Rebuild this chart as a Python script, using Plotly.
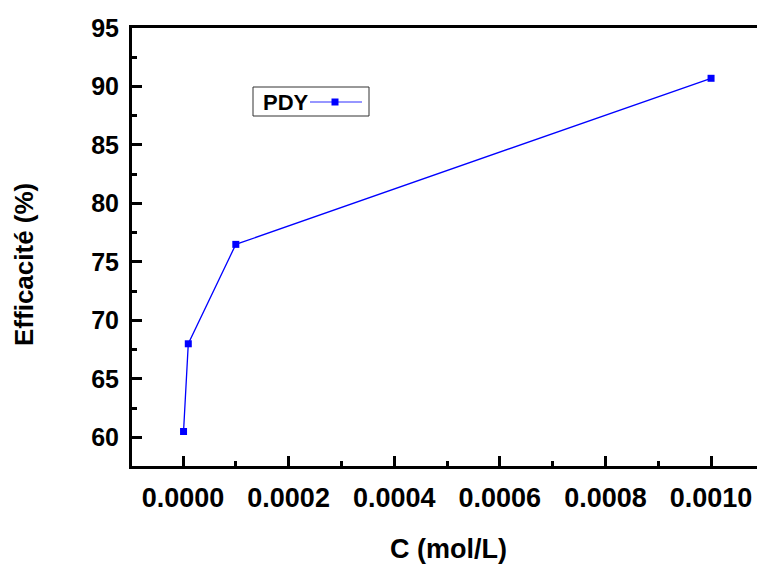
import plotly.graph_objects as go

# Inhibition efficiency vs. inhibitor concentration
concentration = [0.000001, 0.00001, 0.0001, 0.001]   # mol/L
efficiency = [60.5, 68.0, 76.5, 90.7]                  # %
series_name = "PDY"

W, H = 757, 567
L, R, T, B = 132, 0, 28, 101
PW, PH = W - L - R, H - T - B

FONT = "Liberation Sans, Arial, sans-serif"
BLUE = "#0000FF"


def px_x(p):
    return (p - L) / PW


def px_y(p):
    return (H - B - p) / PH


fig = go.Figure()
fig.add_trace(go.Scatter(
    x=concentration, y=efficiency, mode="lines+markers",
    name=series_name, showlegend=False,
    line=dict(color=BLUE, width=1.3),
    marker=dict(symbol="square", size=7, color=BLUE),
))

axis_common = dict(
    showline=True, linecolor="black", linewidth=3,
    ticks="inside", ticklen=10, tickwidth=3, tickcolor="black",
    showgrid=False, zeroline=False,
)

fig.update_xaxes(
    **axis_common,
    range=[-0.0000966, 0.001087],
    tick0=0, dtick=0.0002, tickformat=".4f",
    tickfont=dict(family=FONT, size=27, color="black", weight="bold"),
    minor=dict(ticks="inside", dtick=0.0001, ticklen=5, tickwidth=3, tickcolor="black"),
    mirror=True, ticklabelstandoff=6,
)
fig.update_yaxes(
    **axis_common,
    range=[57.55, 95],
    tick0=60, dtick=5,
    tickfont=dict(family=FONT, size=25, color="black", weight="bold"),
    minor=dict(ticks="inside", dtick=2.5, ticklen=5, tickwidth=3, tickcolor="black"),
    ticklabelstandoff=5,
)

# axis titles
fig.add_annotation(
    text="C (mol/L)", xref="paper", yref="paper",
    x=px_x(448), y=px_y(549), xanchor="center", yanchor="middle",
    showarrow=False, font=dict(family=FONT, size=27, color="black", weight="bold"),
)
fig.add_annotation(
    text="Efficacité (%)", xref="paper", yref="paper", textangle=-90,
    x=px_x(24), y=px_y(265), xanchor="center", yanchor="middle",
    showarrow=False, font=dict(family=FONT, size=26, color="black", weight="bold"),
)

# legend box: label followed by line/marker sample
fig.add_shape(type="rect", xref="paper", yref="paper",
              x0=px_x(253), x1=px_x(369), y0=px_y(116), y1=px_y(87),
              line=dict(color="#333333", width=1), fillcolor="white")
fig.add_annotation(
    text=series_name, xref="paper", yref="paper",
    x=px_x(261), y=px_y(102), xanchor="left", yanchor="middle",
    showarrow=False, font=dict(family=FONT, size=22, color="black", weight="bold"),
)
fig.add_shape(type="line", xref="paper", yref="paper",
              x0=px_x(310), x1=px_x(362), y0=px_y(102), y1=px_y(102),
              line=dict(color="rgba(0,0,255,0.55)", width=1.3))
fig.add_shape(type="rect", xref="paper", yref="paper",
              x0=px_x(331.5), x1=px_x(338.5), y0=px_y(105.5), y1=px_y(98.5),
              line=dict(width=0), fillcolor=BLUE)

fig.update_layout(
    width=W, height=H,
    margin=dict(l=L, r=R, t=T, b=B),
    paper_bgcolor="white", plot_bgcolor="white",
    showlegend=False,
)

fig.write_html("out.html")
